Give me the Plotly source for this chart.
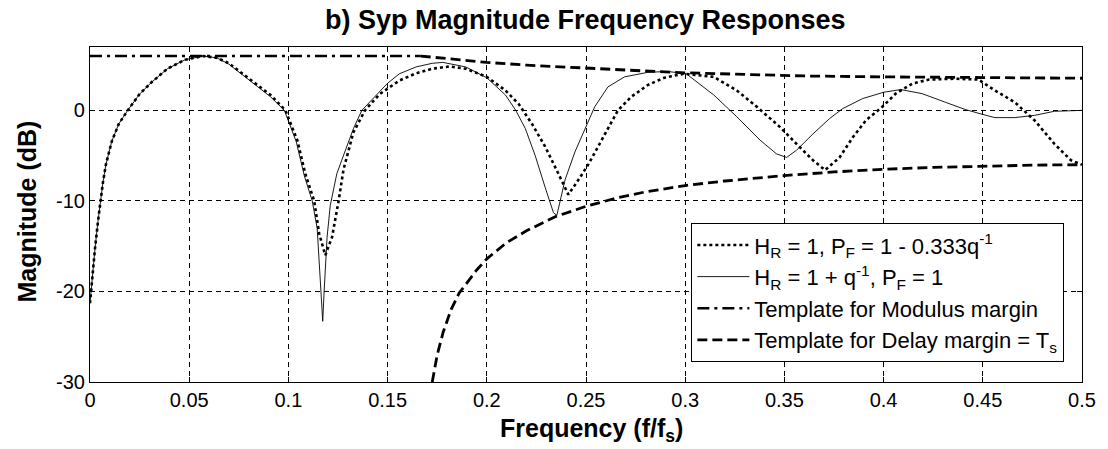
import plotly.graph_objects as go

# ---- data ----
f_dot = [0.0, 0.001, 0.0025, 0.004, 0.005, 0.0065, 0.008, 0.011, 0.0145, 0.019, 0.025, 0.031,
         0.039, 0.048, 0.057, 0.064, 0.07, 0.081, 0.091, 0.0985, 0.1045, 0.1085, 0.113, 0.1155,
         0.1186, 0.122, 0.1253, 0.1278, 0.1328, 0.1386, 0.146, 0.156, 0.1644, 0.1725, 0.1811,
         0.1894, 0.2, 0.2094, 0.2161, 0.2228, 0.2294, 0.2361, 0.2411, 0.2461, 0.2511, 0.2561,
         0.2611, 0.2661, 0.2728, 0.2811, 0.2894, 0.2994, 0.3144, 0.326, 0.3361, 0.3478, 0.3561,
         0.3644, 0.3705, 0.3778, 0.3844, 0.3911, 0.3994, 0.4061, 0.4144, 0.4228, 0.4361, 0.4478,
         0.4561, 0.4661, 0.4761, 0.4861, 0.4944, 0.5]
mag_dot = [-21.3, -18.5, -15.3, -12.3, -10.5, -8.0, -6.0, -3.4, -1.5, 0.0, 1.8, 3.1,
           4.6, 5.6, 6.0, 5.8, 5.2, 3.4, 1.7, 0.0, -3.3, -7.0, -10.0, -13.6,
           -16.0, -14.0, -10.0, -6.5, -2.4, 0.0, 1.8, 3.3, 4.1, 4.6, 4.85,
           4.6, 3.7, 2.2, 0.7, -1.5, -4.0, -7.0, -9.3, -7.7, -6.0, -4.0,
           -2.0, 0.0, 1.5, 2.8, 3.6, 4.05, 3.7, 2.2, 0.4, -1.85, -3.7,
           -5.5, -6.6, -5.2, -3.0, -1.1, 0.4, 1.85, 2.95, 3.4, 3.5, 3.4,
           2.2, 0.9, -1.1, -3.7, -5.5, -6.0]

f_sol = [0.0, 0.001, 0.0025, 0.004, 0.005, 0.0065, 0.008, 0.011, 0.0145, 0.019, 0.025, 0.031,
         0.039, 0.048, 0.057, 0.064, 0.07, 0.081, 0.091, 0.098, 0.104, 0.108, 0.112, 0.1145,
         0.1155, 0.1165, 0.1173, 0.118, 0.119, 0.1195, 0.1211, 0.1244, 0.1269, 0.1294, 0.1328,
         0.137, 0.15, 0.156, 0.1644, 0.1725, 0.1778, 0.1894, 0.2, 0.2094, 0.2146, 0.2194,
         0.2244, 0.2294, 0.2336, 0.2353, 0.2394, 0.2444, 0.25, 0.2544, 0.2611, 0.2694, 0.2811,
         0.2911, 0.3005, 0.3144, 0.326, 0.3378, 0.346, 0.3511, 0.3561, 0.3644, 0.3728, 0.3794,
         0.3894, 0.4, 0.4086, 0.4194, 0.4311, 0.4411, 0.45, 0.4561, 0.4661, 0.4761, 0.4861, 0.5]
mag_sol = [-21.3, -18.5, -15.3, -12.3, -10.5, -8.0, -6.0, -3.4, -1.5, 0.0, 1.8, 3.1,
           4.6, 5.6, 6.0, 5.8, 5.1, 3.2, 1.5, 0.0, -3.5, -7.2, -10.0, -13.0,
           -17.0, -20.0, -23.3, -20.0, -16.2, -14.0, -10.5, -7.0, -5.5, -4.0, -2.0,
           0.0, 3.0, 4.05, 4.8, 5.2, 5.3, 4.8, 3.6, 1.7, 0.0, -2.0,
           -5.0, -8.5, -11.3, -11.6, -7.7, -4.6, -1.8, 0.4, 2.6, 3.7, 4.2,
           4.3, 4.05, 1.7, -0.7, -3.3, -4.8, -5.2, -4.4, -2.6, -0.9, 0.2,
           1.3, 2.0, 2.3, 1.85, 0.9, 0.1, -0.45, -0.8, -0.8, -0.55, -0.1, 0.0]

f_mod = [0.0, 0.1667]
mag_mod = [6.0, 6.0]

f_up = [0.1667, 0.18, 0.2, 0.22, 0.25, 0.28, 0.3, 0.33, 0.36, 0.4, 0.45, 0.5]
mag_up = [6.0, 5.7, 5.3, 5.0, 4.65, 4.35, 4.15, 3.95, 3.8, 3.7, 3.6, 3.55]

f_low = [0.1725, 0.175, 0.178, 0.182, 0.186, 0.19, 0.195, 0.2, 0.21, 0.22, 0.235, 0.25,
         0.265, 0.28, 0.3, 0.32, 0.35, 0.375, 0.4, 0.425, 0.45, 0.475, 0.5]
mag_low = [-30.0, -27.0, -24.5, -22.0, -20.2, -19.0, -17.6, -16.4, -14.6, -13.3, -11.7, -10.6,
           -9.7, -9.0, -8.3, -7.8, -7.2, -6.8, -6.5, -6.3, -6.15, -6.05, -6.0]

x_ticks = [0, 0.05, 0.1, 0.15, 0.2, 0.25, 0.3, 0.35, 0.4, 0.45, 0.5]
x_tick_text = ["0", "0.05", "0.1", "0.15", "0.2", "0.25", "0.3", "0.35", "0.4", "0.45", "0.5"]
y_ticks = [-30, -20, -10, 0]
y_tick_text = ["-30", "-20", "-10", "0"]

names = ["H<sub>R</sub> = 1, P<sub>F</sub> = 1 - 0.333q<sup>-1</sup>",
         "H<sub>R</sub> = 1 + q<sup>-1</sup>, P<sub>F</sub> = 1",
         "Template for Modulus margin",
         "Template for Delay margin = T<sub>s</sub>"]

FONT = "Liberation Sans, Arial, sans-serif"
W, H = 1108, 449
L, R, T, B = 90, 18, 47, 67
ph = H - T - B
pw = W - L - R

fig = go.Figure()
fig.add_trace(go.Scatter(x=f_dot, y=mag_dot, mode="lines", name=names[0],
                         line=dict(color="black", width=2.6, dash="3px,3px")))
fig.add_trace(go.Scatter(x=f_sol, y=mag_sol, mode="lines", name=names[1],
                         line=dict(color="black", width=0.9)))
fig.add_trace(go.Scatter(x=f_mod, y=mag_mod, mode="lines", name=names[2],
                         line=dict(color="black", width=2.6, dash="12px,5px,3px,5px")))
fig.add_trace(go.Scatter(x=f_up, y=mag_up, mode="lines", name=names[3],
                         line=dict(color="black", width=2.8, dash="10px,5px")))
fig.add_trace(go.Scatter(x=f_low, y=mag_low, mode="lines", name=names[3], showlegend=False,
                         line=dict(color="black", width=2.8, dash="10px,5px")))

axis_common = dict(showline=True, linecolor="black", linewidth=1.2, mirror="ticks",
                   ticks="inside", ticklen=5, tickcolor="black",
                   showgrid=True, gridcolor="black", gridwidth=0.6, griddash="5px,4px",
                   zeroline=False, tickfont=dict(family=FONT, size=20, color="black"))

fig.update_xaxes(range=[0, 0.5], tickvals=x_ticks, ticktext=x_tick_text, **axis_common)
fig.update_yaxes(range=[-30, 7], tickvals=y_ticks, ticktext=y_tick_text, **axis_common)

def py(p):
    return (H - B - p) / ph

def px(p):
    return (p - L) / pw

fig.update_layout(
    width=W, height=H, margin=dict(l=L, r=R, t=T, b=B),
    paper_bgcolor="white", plot_bgcolor="white",
    font=dict(family=FONT, color="black"),
    legend=dict(x=px(696), y=py(223), xanchor="left", yanchor="top",
                bgcolor="white", bordercolor="black", borderwidth=1.2,
                font=dict(family=FONT, size=22, color="black"),
                itemwidth=52, tracegroupgap=0),
    annotations=[
        dict(text="<b>b) Syp Magnitude Frequency Responses</b>", xref="paper", yref="paper",
             x=px(589), y=py(20), xanchor="center", yanchor="middle", showarrow=False,
             font=dict(family=FONT, size=27, color="black")),
        dict(text="<b>Frequency (f/f<sub>s</sub>)</b>", xref="paper", yref="paper",
             x=px(596), y=py(430), xanchor="center", yanchor="middle", showarrow=False,
             font=dict(family=FONT, size=25, color="black")),
        dict(text="<b>Magnitude (dB)</b>", xref="paper", yref="paper",
             x=px(26), y=py(212), xanchor="center", yanchor="middle", showarrow=False,
             textangle=-90, font=dict(family=FONT, size=25, color="black")),
    ],
)

fig.write_html("out.html")
